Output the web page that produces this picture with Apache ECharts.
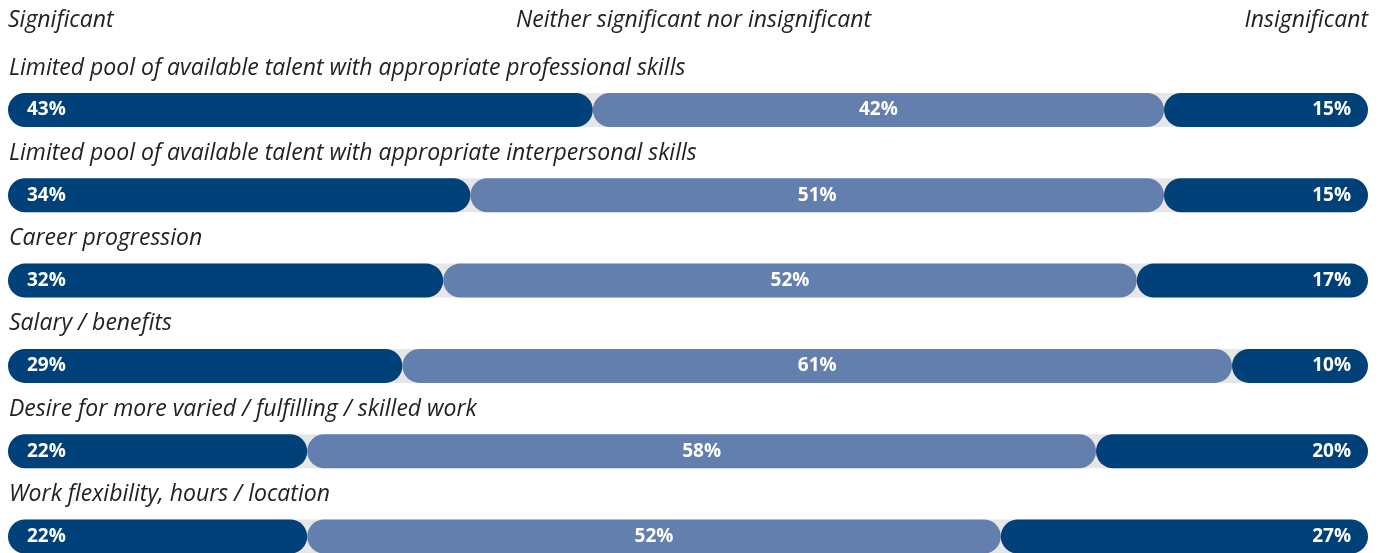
<!DOCTYPE html>
<html>
<head>
<meta charset="utf-8">
<script src="https://cdn.jsdelivr.net/npm/echarts@6/dist/echarts.min.js"></script>
<style>
html,body{margin:0;padding:0;background:#fff;}
#c{width:1387px;height:553px;}
</style>
</head>
<body>
<div id="c"></div>
<script>
const categories = [
  'Limited pool of available talent with appropriate professional skills',
  'Limited pool of available talent with appropriate interpersonal skills',
  'Career progression',
  'Salary / benefits',
  'Desire for more varied / fulfilling / skilled work',
  'Work flexibility, hours / location'
];
const significant = [43, 34, 32, 29, 22, 22];
const neither = [42, 51, 52, 61, 58, 52];
const insignificant = [15, 15, 17, 10, 20, 27];
const headers = ['Significant', 'Neither significant nor insignificant', 'Insignificant'];

const DARK = '#00417a';
const LIGHT = '#637fad';
const TRACK = '#e6e6e6';
const FONT = '"Open Sans"';

// middle segment spans the space between the left and right segments
const midSpan = significant.map((v, i) => 100 - v - insignificant[i]);

const chart = echarts.init(document.getElementById('c'));
const R = 17;
const barLabel = (arr, pos, pad) => ({
  show: true, position: pos, color: '#fff', fontFamily: FONT, fontWeight: 'bold', fontSize: 19,
  distance: pad,
  formatter: p => arr[p.dataIndex] + '%'
});
chart.setOption({
  animation: false,
  grid: {left: 8, right: 19, top: 110, bottom: 16.5, containLabel: false},
  xAxis: {type: 'value', min: 0, max: 100, show: false},
  yAxis: {type: 'category', data: categories, inverse: true, show: false, boundaryGap: false},
  graphic: [
    {type: 'text', left: 8, top: 9, style: {text: headers[0], font: 'italic 23px ' + FONT, fill: '#222'}},
    {type: 'text', left: 'center', top: 9, style: {text: headers[1], font: 'italic 23px ' + FONT, fill: '#222'}},
    {type: 'text', right: 19, top: 9, style: {text: headers[2], font: 'italic 23px ' + FONT, fill: '#222'}}
  ],
  series: [
    {type: 'bar', data: categories.map(() => 100), barWidth: 34, barGap: '-100%', silent: true,
     itemStyle: {color: TRACK, borderRadius: R}, z: 1,
     label: {show: true, position: [1, -25], align: 'left', verticalAlign: 'middle',
       formatter: p => categories[p.dataIndex], color: '#222', fontFamily: FONT, fontStyle: 'italic', fontSize: 23}},
    {type: 'bar', stack: 's', data: significant, barWidth: 34, itemStyle: {color: DARK, borderRadius: R}, z: 2,
     label: barLabel(significant, 'insideLeft', 19)},
    {type: 'bar', stack: 's', data: midSpan, barWidth: 34, itemStyle: {color: LIGHT, borderRadius: R}, z: 2,
     label: barLabel(neither, 'inside', 0)},
    {type: 'bar', stack: 's', data: insignificant, barWidth: 34, itemStyle: {color: DARK, borderRadius: R}, z: 2,
     label: barLabel(insignificant, 'insideRight', 17)}
  ]
});
</script>
</body>
</html>
